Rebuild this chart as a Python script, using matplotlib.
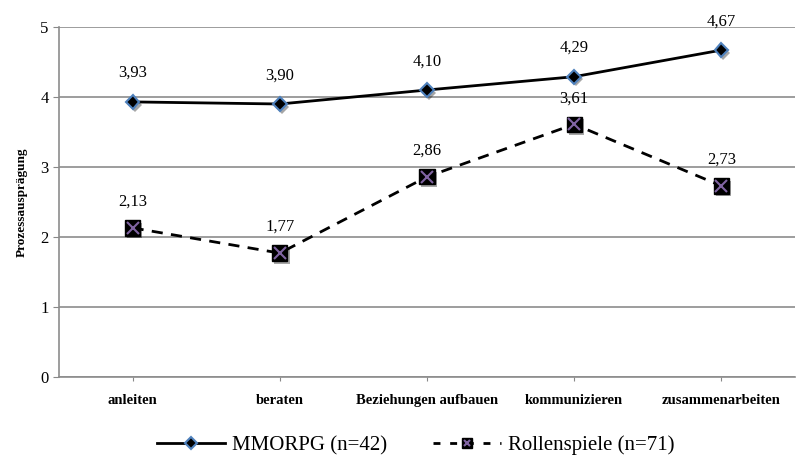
import matplotlib.pyplot as plt
import matplotlib.patheffects as pe
from matplotlib.lines import Line2D
from matplotlib.legend_handler import HandlerTuple

categories = ['anleiten', 'beraten', 'Beziehungen aufbauen', 'kommunizieren', 'zusammenarbeiten']
mmorpg = [3.93, 3.90, 4.10, 4.29, 4.67]
rollenspiele = [2.13, 1.77, 2.86, 3.61, 2.73]
series_names = ['MMORPG (n=42)', 'Rollenspiele (n=71)']

plt.rcParams['font.family'] = ['Liberation Serif', 'DejaVu Serif']

fig = plt.figure(figsize=(8.05, 4.59), dpi=100)
ax = fig.add_axes([59 / 805, 1 - 377 / 459, 736 / 805, 350 / 459])

x = list(range(len(categories)))
shadow = [pe.SimplePatchShadow(offset=(1.5, -2), alpha=0.35), pe.Normal()]

ax.plot(x, mmorpg, color='black', linewidth=2, zorder=3)
ax.plot(x, mmorpg, linestyle='none', marker='D', markersize=7,
        markerfacecolor='black', markeredgecolor='#4f81bd', markeredgewidth=1.5,
        zorder=4, path_effects=shadow)

ax.plot(x, rollenspiele, color='black', linewidth=2, linestyle=(0, (4, 3)), zorder=3)
ax.plot(x, rollenspiele, linestyle='none', marker='s', markersize=11,
        markerfacecolor='black', markeredgecolor='black', zorder=4, path_effects=shadow)
ax.plot(x, rollenspiele, linestyle='none', marker='x', markersize=9,
        markeredgecolor='#8064a2', markeredgewidth=1.5, zorder=5)

for xi, v in zip(x, mmorpg):
    ax.annotate(f'{v:.2f}'.replace('.', ','), (xi, v), xytext=(0, 15),
                textcoords='offset points', ha='center', va='bottom', fontsize=12)
for xi, v in zip(x, rollenspiele):
    ax.annotate(f'{v:.2f}'.replace('.', ','), (xi, v), xytext=(0, 13),
                textcoords='offset points', ha='center', va='bottom', fontsize=12)

ax.set_xlim(-0.5, len(categories) - 0.5)
ax.set_ylim(0, 5)
ax.set_yticks([0, 1, 2, 3, 4, 5])
ax.set_xticks(x)
ax.set_xticklabels(categories, fontweight='bold', fontsize=10.5)
ax.tick_params(axis='x', length=3, color='#888888', pad=9)
ax.tick_params(axis='y', length=4, color='#888888', labelsize=12)
ax.yaxis.grid(True, color='#8c8c8c', linewidth=1.2)
ax.set_axisbelow(True)
for s in ['top', 'right']:
    ax.spines[s].set_visible(False)
for s in ['left', 'bottom']:
    ax.spines[s].set_color('#8c8c8c')
    ax.spines[s].set_linewidth(1.2)

ax.set_ylabel('Prozessausprägung', fontweight='bold', fontsize=9.5, labelpad=9)

h1 = Line2D([], [], color='black', linewidth=2, marker='D', markersize=6,
            markerfacecolor='black', markeredgecolor='#4f81bd', markeredgewidth=1.5)
h2a = Line2D([], [], color='black', linewidth=2, linestyle=(0, (2.5, 3.5)), marker='s',
             markersize=7, markerfacecolor='black', markeredgecolor='black')
h2b = Line2D([], [], linestyle='none', marker='x', markersize=5,
             markeredgecolor='#8064a2', markeredgewidth=1.5)
fig.legend([h1, (h2a, h2b)], series_names, loc='center', bbox_to_anchor=(0.516, 0.03),
           ncol=2, frameon=False, fontsize=15, handlelength=3.3, handletextpad=0.3,
           columnspacing=2.2, handler_map={tuple: HandlerTuple(ndivide=1)})

fig.savefig('out.png', dpi=100)
